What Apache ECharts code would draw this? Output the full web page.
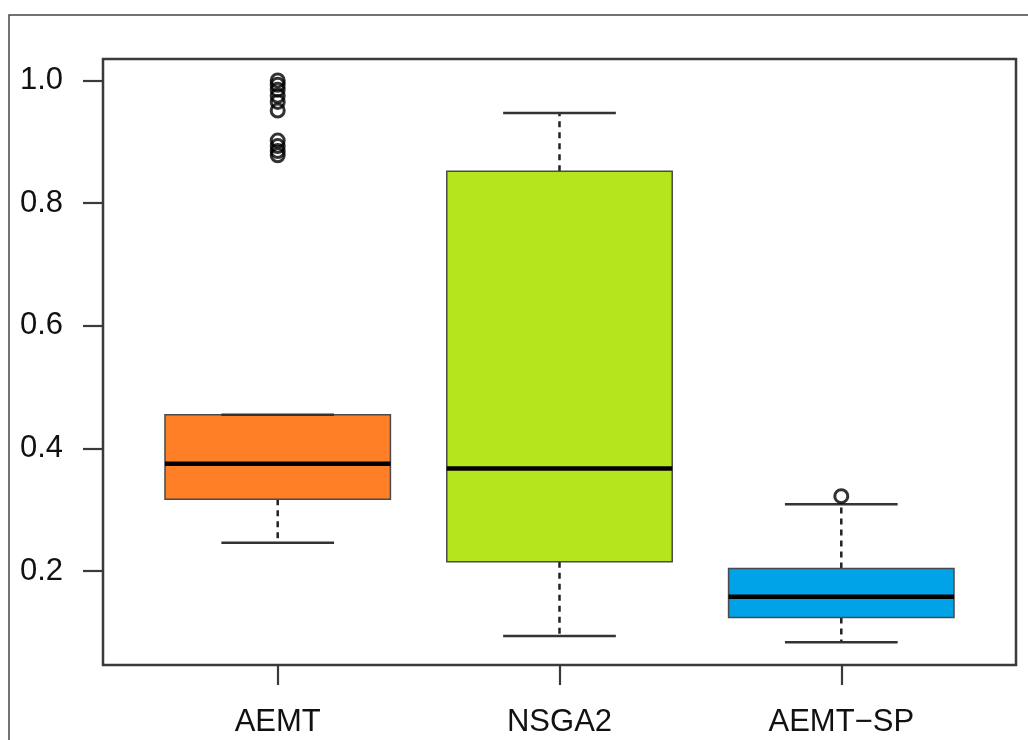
<!DOCTYPE html>
<html>
<head>
<meta charset="utf-8">
<script src="https://cdn.jsdelivr.net/npm/echarts@6/dist/echarts.min.js"></script>
<style>
  html, body { margin: 0; padding: 0; background: #fff; }
  #chart { width: 1028px; height: 740px; }
</style>
</head>
<body>
<div id="chart"></div>
<script>
// Five-number summaries per algorithm
const categories   = ['AEMT', 'NSGA2', 'AEMT\u2212SP'];
const lowerWhisker = [0.246, 0.094, 0.084];
const q1           = [0.317, 0.215, 0.124];
const median       = [0.375, 0.367, 0.158];
const q3           = [0.455, 0.852, 0.204];
const upperWhisker = [0.455, 0.947, 0.309];
const boxColors    = ['#FF7F27', '#B5E61D', '#00A2E8'];

// Points beyond the whiskers
const outliersAEMT   = [1.0, 0.993, 0.985, 0.975, 0.965, 0.951, 0.902, 0.893, 0.885, 0.878];
const outliersNSGA2  = [];
const outliersAEMTSP = [0.322];
const outlierSets    = [outliersAEMT, outliersNSGA2, outliersAEMTSP];

const yTicks = [0.2, 0.4, 0.6, 0.8, 1.0];
const xTicks = [1, 2, 3];

const boxData = categories.map((c, i) =>
  [i + 1, lowerWhisker[i], q1[i], median[i], q3[i], upperWhisker[i], i]);

const outlierData = [];
outlierSets.forEach((set, i) => set.forEach(v => outlierData.push([i + 1, v])));

const frameColor = '#3a3a3a';
const textColor = '#111';
const fontFamily = 'Liberation Sans, Arial, sans-serif';

function renderBox(params, api) {
  const x = api.value(0);
  const lo = api.coord([x, api.value(1)]);
  const b1 = api.coord([x, api.value(2)]);
  const md = api.coord([x, api.value(3)]);
  const b3 = api.coord([x, api.value(4)]);
  const hi = api.coord([x, api.value(5)]);
  const idx = api.value(6);
  const halfBox = api.size([0.4, 0])[0];
  const halfCap = api.size([0.2, 0])[0];
  const cx = lo[0];
  const whiskerStyle = { stroke: '#222', lineWidth: 2.5, lineDash: [6, 5] };
  const capStyle = { stroke: '#333', lineWidth: 2.5 };
  return {
    type: 'group',
    children: [
      { type: 'line', shape: { x1: cx, y1: b3[1], x2: cx, y2: hi[1] }, style: whiskerStyle },
      { type: 'line', shape: { x1: cx, y1: b1[1], x2: cx, y2: lo[1] }, style: whiskerStyle },
      { type: 'rect',
        shape: { x: cx - halfBox, y: b3[1], width: halfBox * 2, height: b1[1] - b3[1] },
        style: { fill: boxColors[idx], stroke: '#4a4a4a', lineWidth: 1.5 } },
      { type: 'line', shape: { x1: cx - halfCap, y1: hi[1], x2: cx + halfCap, y2: hi[1] }, style: capStyle },
      { type: 'line', shape: { x1: cx - halfCap, y1: lo[1], x2: cx + halfCap, y2: lo[1] }, style: capStyle },
      { type: 'line', shape: { x1: cx - halfBox, y1: md[1], x2: cx + halfBox, y2: md[1] },
        style: { stroke: '#000', lineWidth: 4.5 } }
    ]
  };
}

const chart = echarts.init(document.getElementById('chart'), null, { renderer: 'canvas' });
chart.setOption({
  animation: false,
  backgroundColor: '#fff',
  graphic: [{
    type: 'rect', silent: true,
    shape: { x: 9, y: 15, width: 1100, height: 800 },
    style: { fill: 'none', stroke: '#444', lineWidth: 1.5 }
  }],
  grid: {
    left: 103, top: 59, width: 913, height: 606,
    show: true, borderColor: frameColor, borderWidth: 2.5, backgroundColor: 'transparent'
  },
  xAxis: {
    type: 'value', min: 0.38, max: 3.62,
    splitLine: { show: false },
    axisLine: { show: false },
    axisTick: { show: true, inside: false, length: 20, customValues: xTicks,
                lineStyle: { color: frameColor, width: 2.2 } },
    axisLabel: { customValues: xTicks, margin: 42, color: textColor, fontSize: 31,
                 fontFamily: fontFamily,
                 formatter: v => categories[Math.round(v) - 1] || '' }
  },
  yAxis: {
    type: 'value', min: 0.0467, max: 1.035,
    splitLine: { show: false },
    axisLine: { show: false },
    axisTick: { show: true, inside: false, length: 20, customValues: yTicks,
                lineStyle: { color: frameColor, width: 2.2 } },
    axisLabel: { customValues: yTicks, margin: 40, color: textColor, fontSize: 31,
                 fontFamily: fontFamily,
                 formatter: v => v.toFixed(1) }
  },
  series: [
    {
      type: 'custom',
      renderItem: renderBox,
      encode: { x: 0, y: [1, 2, 3, 4, 5] },
      data: boxData,
      clip: false
    },
    {
      type: 'scatter',
      data: outlierData,
      symbol: 'circle',
      symbolSize: 13,
      itemStyle: { color: 'transparent', borderColor: '#000', borderWidth: 3 },
      z: 5
    }
  ]
});
</script>
</body>
</html>
